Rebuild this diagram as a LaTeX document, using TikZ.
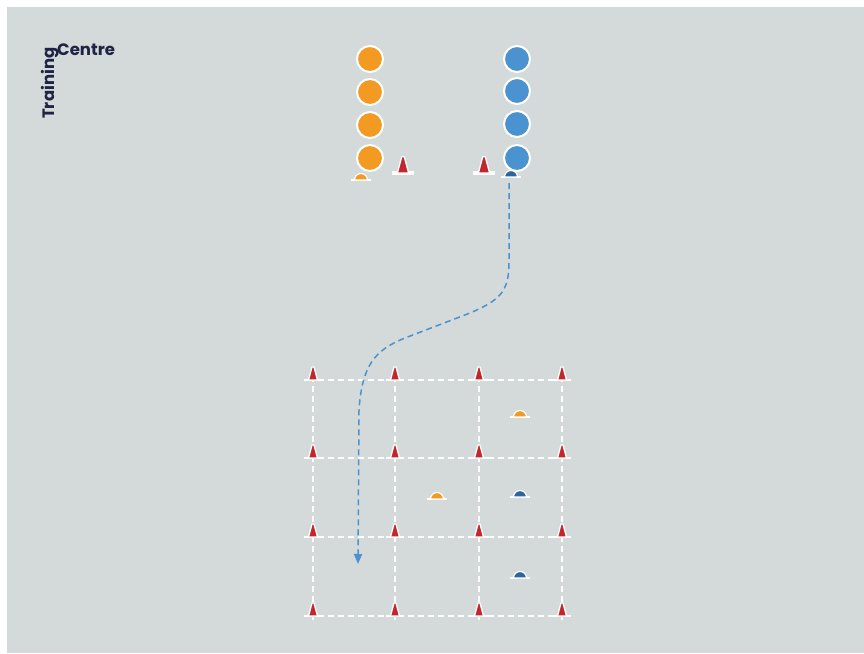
\documentclass[tikz,border=0pt]{standalone}
\usepackage{fontspec}
\setmainfont{Poppins}
\usetikzlibrary{arrows.meta}
\definecolor{bggray}{HTML}{D4D9D9}
\definecolor{orangeP}{HTML}{F29A22}
\definecolor{blueP}{HTML}{4A93D0}
\definecolor{blueM}{HTML}{2F64A0}
\definecolor{coneRed}{HTML}{C1272D}
\definecolor{navy}{HTML}{1F2344}
\tikzset{
  player/.style={circle, fill=#1, draw=white, line width=2pt, minimum size=26pt, inner sep=0pt},
  gridline/.style={white, line width=1.3pt, dash pattern=on 6pt off 4pt},
  flow/.style={blueP, line width=1.5pt, dash pattern=on 6pt off 4pt, -{Triangle[length=10pt,width=8pt]}},
  logo/.style={text=navy, font=\bfseries\fontsize{16.5}{16.5}\selectfont, inner sep=0pt},
  pics/cone/.style={code={
    \fill[white] (-9,-1.3) rectangle (9,1.3);
    \draw[white, line width=1.3pt, fill=coneRed, line join=round] (-4.5,0) -- (-1,-13) -- (1,-13) -- (4.5,0) -- cycle;
  }},
  pics/marker/.style={code={
    \fill[white] (-10,-1.3) rectangle (10,1.3);
    \draw[white, line width=1.2pt, fill=#1] (-6.5,0) arc (180:360:6.5) -- cycle;
  }}
}
\begin{document}
\begin{tikzpicture}[x=1pt,y=-1pt]
\useasboundingbox (0,0) rectangle (864,653);
\fill[white] (0,0) rectangle (864,653);
\fill[bggray] (7,7) rectangle (864,653);
% logo
\node[logo, anchor=base west] (centre) at (57,55) {Centre};
\node[logo, anchor=base west, rotate=90] (training) at (54,119) {Training};
% players
\foreach \y [count=\i] in {59,92,125,158}{
  \node[player=orangeP] (o\i) at (370,\y) {};
}
\foreach \y [count=\i] in {59,91,124,158}{
  \node[player=blueP] (b\i) at (517,\y) {};
}
% markers and cones at start
\pic at (361,180) {marker=orangeP};
\pic[scale=1.25] at (403,173) {cone};
\pic[scale=1.25] at (484,173) {cone};
\pic at (511,177) {marker=blueM};
% grid
\foreach \y in {380,458,537,616}{
  \draw[gridline] (308,\y) -- (571,\y);
}
\foreach \x in {313,395,479,562}{
  \draw[gridline] (\x,376) -- (\x,620);
}
\foreach \x in {313,395,479,562}{
  \foreach \y in {380,458,537,616}{
    \pic at (\x,\y) {cone};
  }
}
% markers in grid
\pic at (520,417) {marker=orangeP};
\pic at (437,499) {marker=orangeP};
\pic at (520,497) {marker=blueM};
\pic at (520,578) {marker=blueM};
% run
\coordinate (start) at (509,183);
\coordinate (finish) at (358,564);
\draw[flow] (start) -- (509,262) .. controls (509,292) and (500,300) .. (470,313)
  -- (405,338) .. controls (375,350) and (362,365) .. (359,410) -- (finish);
\end{tikzpicture}
\end{document}
